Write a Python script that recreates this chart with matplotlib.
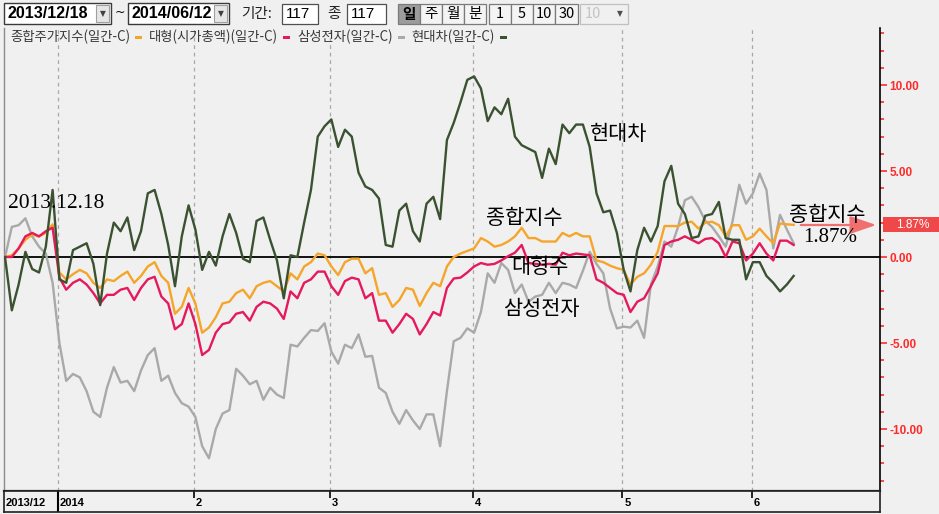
import matplotlib
matplotlib.use('Agg')
import matplotlib.pyplot as plt
from matplotlib.patches import Rectangle
import matplotlib.transforms as mtransforms
import numpy as np

W, H = 939, 514

# daily % change vs 2013-12-18 (117 trading days)
kospi = [0, 0.1, 0.5, 1.0, 1.3, 1.2, 1.4, 1.9, -0.9, -1.3,
         -1.0, -0.75, -0.95, -1.5, -1.8, -1.3, -1.4, -1.1, -0.85, -1.5,
         -1.1, -0.55, -0.3, -1.1, -1.5, -3.3, -2.9, -1.8, -2.7, -4.4,
         -4.1, -3.5, -2.7, -2.6, -2.1, -1.9, -2.4, -1.7, -1.5, -1.4,
         -1.7, -2.0, -0.95, -1.3, -0.55, -0.3, 0.2, 0.1, -0.55, -1.05,
         -0.3, -0.1, -0.1, -0.95, -0.65, -2.2, -2.1, -2.9, -2.5, -1.8,
         -1.9, -2.85, -2.1, -1.5, -1.7, -0.55, 0.0, 0.2, 0.35, 0.5,
         1.1, 0.9, 0.6, 0.7, 0.9, 1.2, 1.7, 1.1, 1.1, 0.9,
         0.9, 0.9, 1.4, 1.2, 1.4, 1.2, 1.2, -0.2, -0.3, -0.5,
         -0.65, -0.75, -1.6, -1.15, -0.95, -0.45, 0.3, 1.8, 1.8, 1.8,
         2.0, 2.05, 1.65, 2.0, 2.05, 1.85, 1.2, 1.85, 1.85, 1.0,
         1.2, 1.65, 1.2, 0.8, 1.95, 1.9, 1.87]
large_cap = [0, 0.0, 0.5, 1.2, 1.4, 1.2, 1.5, 1.7, -1.2, -1.9,
             -1.5, -1.3, -1.6, -2.1, -2.7, -2.2, -2.2, -1.9, -1.8, -2.5,
             -1.8, -1.3, -1.15, -2.3, -2.7, -4.2, -3.9, -2.7, -3.9, -5.7,
             -5.4, -4.4, -3.9, -3.8, -3.3, -3.2, -3.7, -2.9, -2.6, -2.7,
             -3.0, -3.6, -2.0, -2.4, -1.5, -1.3, -0.85, -0.85, -1.7, -2.2,
             -1.4, -1.2, -1.3, -2.4, -2.1, -3.7, -3.7, -4.4, -3.9, -3.3,
             -3.6, -4.5, -3.9, -3.2, -3.4, -1.8, -1.25, -1.2, -0.9, -0.55,
             -0.35, -0.45, -0.4, -0.2, 0.05, 0.25, 0.7, -0.35, -0.4, -0.45,
             -0.4, -0.45, 0.25, 0.1, 0.2, 0.15, 0.1, -1.3, -1.5, -1.8,
             -2.1, -2.2, -3.2, -2.6, -2.4, -1.7, -0.95, 0.7, 0.9, 1.0,
             1.2, 1.0, 0.8, 1.05, 1.1, 0.8, 0.0, 0.9, 0.8, -0.2,
             0.2, 0.8, 0.2, -0.2, 0.95, 0.95, 0.7]
samsung = [0, 1.75, 1.85, 2.25, 1.2, 0.6, 0.2, -1.5, -5.0, -7.2,
           -6.8, -7.0, -7.8, -9.0, -9.3, -7.6, -6.4, -7.3, -7.2, -7.8,
           -6.6, -5.7, -5.3, -7.2, -6.9, -7.9, -8.5, -8.7, -9.3, -11.0,
           -11.7, -10.0, -9.1, -8.9, -6.5, -6.9, -7.4, -7.2, -8.3, -7.6,
           -8.0, -8.2, -5.1, -5.2, -4.7, -4.25, -4.3, -3.85, -5.5, -6.2,
           -5.1, -5.3, -4.5, -5.8, -5.75, -7.6, -7.9, -9.0, -9.7, -8.9,
           -9.5, -10.0, -9.15, -9.15, -11.0, -7.8, -4.9, -4.7, -4.15, -4.4,
           -3.2, -0.95, -1.5, -0.35, -0.75, -2.1, -1.6, -2.6, -2.3, -2.2,
           -1.5, -2.1, -1.5, -1.6, -1.8, -0.8, 0.3, -0.4, -0.95, -3.0,
           -4.15, -4.05, -4.1, -3.7, -4.7, -1.6, -0.55, 0.9, 0.6, 1.75,
           3.3, 3.5, 2.9, 2.1, 1.75, 1.2, 0.6, 2.05, 4.2, 3.1,
           3.7, 4.85, 3.9, 0.5, 2.45, 1.6, 0.8]
hyundai = [0, -3.1, -1.6, 0.3, -0.7, -0.9, 0.6, 3.9, -1.3, -1.5,
           0.4, 0.6, 0.8, -0.4, -2.8, 0.2, 2.0, 1.5, 2.3, 0.4,
           1.5, 3.7, 3.9, 2.5, 0.7, -1.7, 1.2, 3.0, 1.6, -0.75,
           0.3, -0.5, 1.2, 2.5, 1.4, -0.1, -0.3, 2.1, 2.3, 1.0,
           -0.2, -2.4, 0.1, 0.0, 2.0, 3.9, 7.0, 7.6, 8.0, 6.4,
           7.4, 7.0, 4.9, 4.1, 3.9, 3.4, 0.7, 0.6, 2.7, 3.1,
           1.5, 0.9, 3.1, 3.5, 2.2, 6.8, 7.8, 9.0, 10.3, 10.5,
           9.8, 7.9, 8.7, 8.3, 9.2, 7.0, 6.5, 6.3, 6.1, 4.6,
           6.3, 5.4, 7.7, 7.2, 7.7, 7.7, 6.4, 3.7, 2.6, 2.7,
           1.4, -0.75, -2.0, 0.4, 1.7, 0.9, 1.8, 4.4, 5.3, 3.1,
           2.5, 1.1, 1.2, 2.4, 2.5, 3.2, 1.1, 1.0, 1.0, -1.3,
           -0.3, -0.3, -1.1, -1.5, -2.0, -1.6, -1.1]

series_names = ['종합주가지수(일간-C)', '대형(시가총액)(일간-C)', '삼성전자(일간-C)', '현대차(일간-C)']
series_colors = ['#f5a52a', '#e6195c', '#a9a9a9', '#3b5231']
month_start = [8, 28, 48, 69, 91, 110]
month_labels = ['2014', '2', '3', '4', '5', '6']
y_major = [-10, -5, 0, 5, 10]

BG = '#f0f0f0'
KR = ['Noto Sans CJK KR', 'DejaVu Sans']
SERIF = ['Liberation Serif', 'Noto Sans CJK KR']


def px_rect(x0, y0, x1, y1):
    return [x0 / W, 1 - y1 / H, (x1 - x0) / W, (y1 - y0) / H]


fig = plt.figure(figsize=(W / 100, H / 100), dpi=100, facecolor=BG)

# main chart
ax = fig.add_axes(px_rect(4, 28, 880, 491))
ax.set_facecolor(BG)
x = np.arange(len(kospi))
ax.set_xlim(-0.15, 128.7)
ax.set_ylim((257 - 491) / 17.2, (257 - 28) / 17.2)

for m in month_start:
    ax.axvline(m - 0.2, color='#a8a8a8', ls=(0, (3, 3)), lw=0.9, zorder=1)
ax.axhline(0, color='black', lw=1.3, zorder=2)

ax.plot(x, samsung, color=series_colors[2], lw=1.7, zorder=3)
ax.plot(x, kospi, color=series_colors[0], lw=1.7, zorder=4)
ax.plot(x, large_cap, color=series_colors[1], lw=1.7, zorder=5)
ax.plot(x, hyundai, color=series_colors[3], lw=1.7, zorder=6)

ax.set_xticks([])
ax.yaxis.tick_right()
ax.set_yticks(y_major)
ax.set_yticklabels([f'{v:.2f}' for v in y_major])
ax.set_yticks(np.arange(-13, 14), minor=True)
ax.tick_params(axis='y', which='major', colors='#ff2a2a', length=5, width=1.2,
               labelsize=8.5, pad=2)
ax.tick_params(axis='y', which='minor', colors='#ff2a2a', length=3, width=1.2)
for lbl in ax.get_yticklabels():
    lbl.set_fontfamily(['Liberation Sans', 'DejaVu Sans'])
    lbl.set_fontweight('bold')
ax.spines['top'].set_visible(False)
ax.spines['right'].set_color('black')
ax.spines['right'].set_linewidth(1.2)
ax.spines['left'].set_color('#8a8a8a')
ax.spines['left'].set_linewidth(1.0)
ax.spines['bottom'].set_color('#303030')
ax.spines['bottom'].set_linewidth(1.6)

# last value tag on the right axis
trans = mtransforms.blended_transform_factory(ax.transAxes, ax.transData)
ax.add_patch(Rectangle((1.0035, kospi[-1] - 0.44), 0.066, 0.88, transform=trans,
                       facecolor='#f04848', edgecolor='none', clip_on=False))
ax.text(1.037, kospi[-1], f'{kospi[-1]:.2f}%', transform=trans, ha='center', va='center',
        color='white', fontsize=8.5, family=['Liberation Sans', 'DejaVu Sans'])

# bottom date bar
axb = fig.add_axes(px_rect(4, 491, 880, 512))
axb.set_facecolor(BG)
axb.set_xlim(-0.15, 128.7)
axb.set_ylim(0, 1)
axb.set_xticks([])
axb.set_yticks([])
for s in axb.spines.values():
    s.set_color('#202020')
    s.set_linewidth(1.2)
axb.vlines(month_start[0] - 0.2, 0, 1, color='black', lw=1.5)
axb.vlines([m - 0.2 for m in month_start[1:]], 0.68, 1, color='black', lw=1.2)
narrow = ['Liberation Sans Narrow', 'Liberation Sans', 'DejaVu Sans']
axb.text(0.1, 0.42, '2013/12', fontsize=8, fontweight='bold', family=narrow,
         ha='left', va='center')
for m, lab in zip(month_start, month_labels):
    axb.text(m + 0.1, 0.42, lab, fontsize=8, fontweight='bold', family=narrow,
             ha='left', va='center')

# overlay in pixel coordinates: toolbar, legend, annotations
ov = fig.add_axes([0, 0, 1, 1])
ov.set_xlim(0, W)
ov.set_ylim(H, 0)
ov.axis('off')
ov.patch.set_alpha(0)

bold_sans = ['Liberation Sans', 'DejaVu Sans']


def date_box(x0, x1, label):
    ov.add_patch(Rectangle((x0, 3), x1 - x0, 21, facecolor='white', edgecolor='#3a3a3a', lw=1))
    ov.add_patch(Rectangle((x1 - 15, 5), 13, 17, facecolor='#e6e6e6', edgecolor='#a0a0a0', lw=0.8))
    ov.text(x1 - 8.5, 14, '▼', fontsize=5.5, color='#404040', ha='center', va='center')
    ov.text(x0 + 3, 14, label, fontsize=11.5, fontweight='bold', family=bold_sans,
            ha='left', va='center')


date_box(4, 111, '2013/12/18')
ov.text(120, 12, '~', fontsize=9, ha='center', va='center')
date_box(128, 229, '2014/06/12')
ov.text(241, 14, '기간:', fontsize=10.5, family=KR, ha='left', va='center', color='#202020')
ov.add_patch(Rectangle((282, 4), 36, 20, facecolor='white', edgecolor='#505050', lw=0.9))
ov.text(286, 14, '117', fontsize=11, family=bold_sans, ha='left', va='center')
ov.text(327, 14, '종', fontsize=10.5, family=KR, ha='left', va='center', color='#202020')
ov.add_patch(Rectangle((347, 4), 39, 20, facecolor='white', edgecolor='#505050', lw=0.9))
ov.text(351, 14, '117', fontsize=11, family=bold_sans, ha='left', va='center')

buttons = [(398, 420, '일'), (420, 442, '주'), (442, 464, '월'), (464, 486, '분'),
           (489, 511, '1'), (511, 533, '5'), (533, 555, '10'), (555, 578, '30')]
for i, (b0, b1, lab) in enumerate(buttons):
    pressed = i == 0
    ov.add_patch(Rectangle((b0, 4), b1 - b0, 20, facecolor='#9c9c9c' if pressed else '#f4f4f4',
                           edgecolor='#7a7a7a', lw=0.9))
    ov.text((b0 + b1) / 2, 14, lab, fontsize=10.5, family=KR,
            fontweight='bold' if pressed else 'normal', ha='center', va='center')
ov.add_patch(Rectangle((580, 4), 48, 20, facecolor='#f0f0f0', edgecolor='#c0c0c0', lw=0.9))
ov.text(585, 14, '10', fontsize=10.5, family=KR, color='#c4c4c4', ha='left', va='center')
ov.text(620, 14, '▼', fontsize=5.5, color='#505050', ha='center', va='center')

# legend row: name followed by a short colour dash, laid out left to right
renderer = fig.canvas.get_renderer()
inv = ov.transData.inverted()
lx = 10
for name, col in zip(series_names, series_colors):
    t = ov.text(lx, 37, name, fontsize=9.6, family=KR, color='#383838', ha='left', va='center')
    bb = t.get_window_extent(renderer=renderer)
    x_end = inv.transform((bb.x1, bb.y0))[0]
    ov.add_patch(Rectangle((x_end + 5, 35.5), 7, 3, facecolor=col, edgecolor='none'))
    lx = x_end + 19

# text annotations
ov.text(8, 203, '2013.12.18', fontsize=15.5, family=SERIF, ha='left', va='center')
ov.text(590, 134, '현대차', fontsize=15, family=KR, ha='left', va='center')
ov.text(486, 218, '종합지수', fontsize=15, family=KR, ha='left', va='center')
ov.text(511, 267, '대형주', fontsize=15, family=KR, ha='left', va='center')
ov.text(503, 309, '삼성전자', fontsize=15, family=KR, ha='left', va='center')
ov.annotate('', xy=(879, 225), xytext=(798, 225),
            arrowprops=dict(arrowstyle='-|>,head_length=1.6,head_width=0.55',
                            color='#f07070', lw=1.6))
ov.text(789, 215, '종합지수', fontsize=15, family=KR, ha='left', va='center')
ov.text(803, 238, f'{kospi[-1]:.2f}%', fontsize=15, family=SERIF, ha='left', va='center')

plt.savefig('out.png', dpi=100, facecolor=BG)
plt.close()
